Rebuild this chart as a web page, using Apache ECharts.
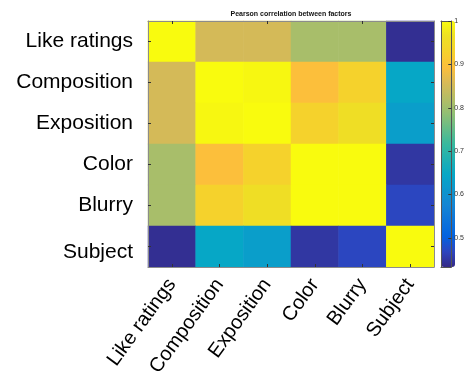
<!DOCTYPE html>
<html>
<head>
<meta charset="utf-8">
<script src="https://cdn.jsdelivr.net/npm/echarts@6/dist/echarts.min.js"></script>
<style>
  html, body { margin: 0; padding: 0; background: #fff; }
  #chart { width: 467px; height: 383px; }
</style>
</head>
<body>
<div id="chart"></div>
<script>
// Factors compared, top-to-bottom / left-to-right
const factors = ['Like ratings', 'Composition', 'Exposition', 'Color', 'Blurry', 'Subject'];

// Pearson correlation coefficients, one row per factor
const rowLike        = [1.00, 0.853, 0.853, 0.809, 0.809, 0.440];
const rowComposition = [0.853, 1.00, 0.995, 0.894, 0.930, 0.646];
const rowExposition  = [0.853, 0.995, 1.00, 0.930, 0.960, 0.626];
const rowColor       = [0.809, 0.894, 0.930, 1.00, 1.00, 0.450];
const rowBlurry      = [0.809, 0.930, 0.960, 1.00, 1.00, 0.470];
const rowSubject     = [0.440, 0.646, 0.626, 0.450, 0.470, 1.00];
const matrix = [rowLike, rowComposition, rowExposition, rowColor, rowBlurry, rowSubject];

// Colour scale range
const scaleMin = 0.433;
const scaleMax = 1.0;

const titleText = 'Pearson correlation between factors';

// Parula-style colour ramp, 17 evenly spaced stops
const parula = [
  '#352a87', '#2d45bf', '#0363e1', '#0c74da', '#1485d4', '#0d96cd',
  '#06a7c6', '#1fb0b2', '#38b99e', '#65bc88', '#92bf73', '#b6bd64',
  '#d9ba56', '#fcbf3b', '#f5d22c', '#eee024', '#f9fb0e'
];

const cells = [];
matrix.forEach((row, r) => row.forEach((v, c) => cells.push([c, r, v])));

const labelFont = '"Liberation Sans", Arial, Helvetica, sans-serif';
const frameColor = '#8c8c8c';

const chart = echarts.init(document.getElementById('chart'), null, { renderer: 'canvas' });

const plot = { left: 148, top: 21, width: 286, height: 246 };
const bar = { left: 441, top: 21, width: 14, height: 246 };

chart.setOption({
  animation: false,
  backgroundColor: '#fff',
  graphic: [{
    type: 'text',
    x: plot.left + plot.width / 2,
    y: 14,
    style: {
      text: titleText,
      fill: '#111',
      font: 'bold 7px ' + labelFont,
      textAlign: 'center',
      textVerticalAlign: 'middle'
    }
  }],
  grid: [
    { left: plot.left, top: plot.top, width: plot.width, height: plot.height },
    { left: bar.left, top: bar.top, width: bar.width, height: bar.height }
  ],
  xAxis: [
    {
      type: 'category', gridIndex: 0, data: factors, position: 'bottom', z: 10,
      axisLine: { show: true, lineStyle: { color: frameColor, width: 1 } },
      axisTick: { show: true, inside: true, alignWithLabel: true, length: 3, lineStyle: { color: '#333' } },
      axisLabel: {
        rotate: 54, margin: 14, fontSize: 20, color: '#000', fontFamily: labelFont, interval: 0
      },
      splitLine: { show: false }
    },
    {
      type: 'category', gridIndex: 0, data: factors, position: 'top', z: 10,
      axisLine: { show: true, lineStyle: { color: frameColor, width: 1 } },
      axisTick: { show: true, inside: true, alignWithLabel: true, length: 3, lineStyle: { color: '#333' } },
      axisLabel: { show: false }
    },
    {
      type: 'category', gridIndex: 1, data: [''], position: 'bottom', z: 10,
      axisLine: { show: true, lineStyle: { color: '#555' } },
      axisTick: { show: false }, axisLabel: { show: false }
    },
    {
      type: 'category', gridIndex: 1, data: [''], position: 'top', z: 10,
      axisLine: { show: true, lineStyle: { color: '#555' } },
      axisTick: { show: false }, axisLabel: { show: false }
    }
  ],
  yAxis: [
    {
      type: 'category', gridIndex: 0, data: factors, inverse: true, position: 'left', z: 10,
      axisLine: { show: true, lineStyle: { color: frameColor, width: 1 } },
      axisTick: { show: true, inside: true, alignWithLabel: true, length: 3, lineStyle: { color: '#333' } },
      axisLabel: {
        margin: 15, fontSize: 21, color: '#000', fontFamily: labelFont, interval: 0,
        formatter: v => v === 'Subject' ? '{low|' + v + '}' : v,
        rich: { low: { fontSize: 21, color: '#000', fontFamily: labelFont, padding: [11, 0, 0, 0] } }
      }
    },
    {
      type: 'category', gridIndex: 0, data: factors, inverse: true, position: 'right', z: 10,
      axisLine: { show: true, lineStyle: { color: frameColor, width: 1 } },
      axisTick: { show: true, inside: true, alignWithLabel: true, length: 3, lineStyle: { color: '#333' } },
      axisLabel: { show: false }
    },
    {
      type: 'value', gridIndex: 1, min: scaleMin, max: scaleMax, position: 'right', z: 10,
      splitNumber: 5,
      axisLine: { show: true, lineStyle: { color: '#555' } },
      axisTick: { show: true, inside: true, length: 3, lineStyle: { color: '#333' } },
      axisLabel: {
        showMinLabel: false, margin: 3, fontSize: 7, color: '#333', fontFamily: labelFont,
        formatter: v => String(Math.round(v * 10) / 10)
      },
      splitLine: { show: false }
    },
    {
      type: 'value', gridIndex: 1, min: scaleMin, max: scaleMax, position: 'left', z: 10,
      axisLine: { show: true, lineStyle: { color: '#555' } },
      axisTick: { show: false }, axisLabel: { show: false }, splitLine: { show: false }
    }
  ],
  visualMap: {
    type: 'continuous',
    min: scaleMin,
    max: scaleMax,
    seriesIndex: 0,
    orient: 'vertical',
    left: bar.left,
    top: bar.top,
    itemWidth: bar.width,
    itemHeight: bar.height,
    padding: 0,
    calculable: false,
    text: null,
    showLabel: false,
    inRange: { color: parula }
  },
  series: [{
    type: 'heatmap',
    xAxisIndex: 0,
    yAxisIndex: 0,
    data: cells,
    itemStyle: { borderWidth: 0 },
    emphasis: { disabled: true }
  }]
});
</script>
</body>
</html>
